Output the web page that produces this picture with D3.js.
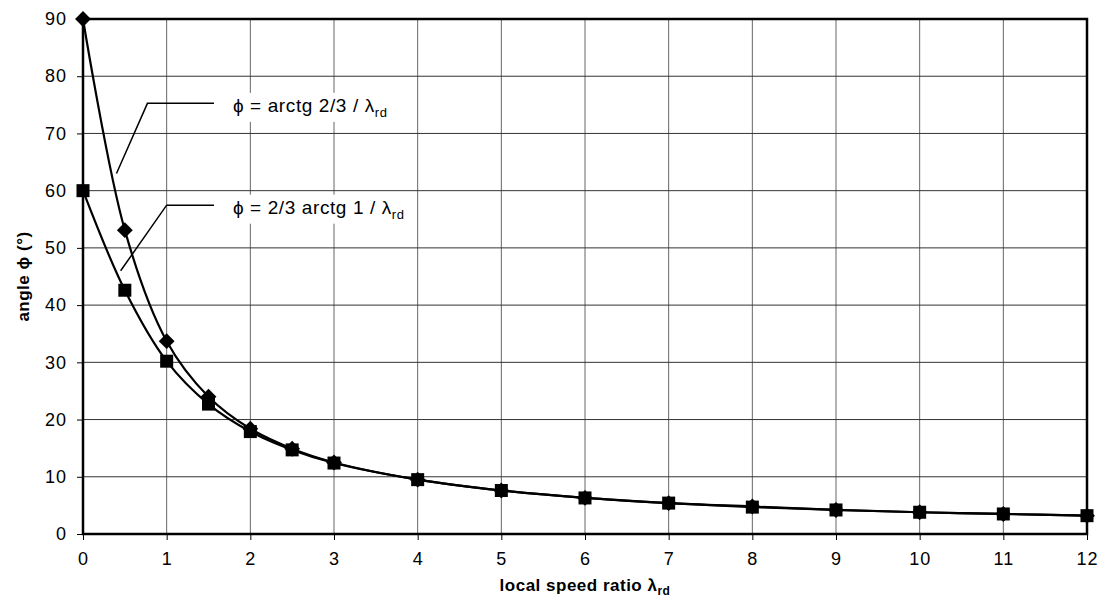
<!DOCTYPE html>
<html>
<head>
<meta charset="utf-8">
<script src="https://cdn.jsdelivr.net/npm/d3@7"></script>
<style>
  body { margin: 0; background: #fff; }
  text { font-family: Arial, "Liberation Sans", sans-serif; }
</style>
</head>
<body>
<div id="chart"></div>
<script>
const lambdas = [0, 0.5, 1, 1.5, 2, 2.5, 3, 4, 5, 6, 7, 8, 9, 10, 11, 12];
const phiArctg = [90, 53.1, 33.7, 24.0, 18.4, 14.9, 12.5, 9.5, 7.6, 6.3, 5.4, 4.8, 4.2, 3.8, 3.5, 3.2];
const phiTwoThirds = [60, 42.6, 30.2, 22.7, 17.9, 14.7, 12.4, 9.5, 7.6, 6.3, 5.4, 4.7, 4.2, 3.8, 3.5, 3.2];
const xTicks = d3.range(0, 13, 1);
const yTicks = d3.range(0, 91, 10);

const width = 1108, height = 614;
const margin = {left: 83, right: 21, top: 19, bottom: 80};

const svg = d3.select('#chart').append('svg')
    .attr('width', width)
    .attr('height', height);

const x = d3.scaleLinear().domain([0, 12]).range([margin.left, width - margin.right]);
const y = d3.scaleLinear().domain([0, 90]).range([height - margin.bottom, margin.top]);

// grid
svg.append('g').selectAll('line')
    .data(xTicks.slice(1, -1))
    .enter().append('line')
        .attr('x1', d => x(d)).attr('x2', d => x(d))
        .attr('y1', y(0)).attr('y2', y(90))
        .attr('stroke', '#666').attr('stroke-width', 1);
svg.append('g').selectAll('line')
    .data(yTicks.slice(1, -1))
    .enter().append('line')
        .attr('y1', d => y(d)).attr('y2', d => y(d))
        .attr('x1', x(0)).attr('x2', x(12))
        .attr('stroke', '#333').attr('stroke-width', 1);

// axes
const xAxis = svg.append('g')
    .attr('transform', `translate(0,${y(0)})`)
    .call(d3.axisBottom(x).tickValues(xTicks).tickSize(6).tickPadding(12).tickFormat(d3.format('d')));
const yAxis = svg.append('g')
    .attr('transform', `translate(${x(0)},0)`)
    .call(d3.axisLeft(y).tickValues(yTicks).tickSize(6).tickPadding(10).tickFormat(d3.format('d')));
[xAxis, yAxis].forEach(a => {
    a.select('.domain').remove();
    a.selectAll('.tick line').attr('stroke', '#000');
    a.selectAll('text').style('font-size', '18px').style('letter-spacing', '1px').attr('fill', '#000');
});

const labels = [
    {text: 'ϕ = arctg 2/3 / λ', v: 75, lx: 233, ex: 0.4, ey: 63, hx: 0.77},
    {text: 'ϕ = 2/3 arctg 1 / λ', v: 57.2, lx: 233, ex: 0.45, ey: 46, hx: 1.0}
];

// frame
svg.append('rect')
    .attr('x', x(0)).attr('y', y(90))
    .attr('width', x(12) - x(0)).attr('height', y(0) - y(90))
    .attr('fill', 'none').attr('stroke', '#000').attr('stroke-width', 2.5);

// annotations with white boxes behind
labels.forEach(l => {
    const g = svg.append('g');
    const box = g.append('rect').attr('fill', '#fff');
    const t = g.append('text')
        .attr('x', l.lx).attr('y', y(l.v) + 7)
        .style('font-size', '19px').style('letter-spacing', '0.6px');
    t.append('tspan').text(l.text);
    t.append('tspan').text('rd').attr('dy', 5).style('font-size', '13px');
    const bb = t.node().getBBox();
    box.attr('x', bb.x - 12).attr('y', bb.y - 2)
        .attr('width', bb.width + 24).attr('height', bb.height + 4);
    g.append('path')
        .attr('d', `M${x(l.ex)},${y(l.ey)}L${x(l.hx)},${y(l.v) - 1.5}L${l.lx - 19},${y(l.v) - 1.5}`)
        .attr('fill', 'none').attr('stroke', '#000').attr('stroke-width', 1.5);
});

// series
const line = d3.line()
    .x((d, i) => x(lambdas[i]))
    .y(d => y(d))
    .curve(d3.curveCatmullRom.alpha(0.5));

[phiArctg, phiTwoThirds].forEach(s => {
    svg.append('path')
        .attr('d', line(s))
        .attr('fill', 'none').attr('stroke', '#000').attr('stroke-width', 2.2);
});

svg.append('g').selectAll('path')
    .data(phiArctg)
    .enter().append('path')
        .attr('d', d3.symbol(d3.symbolDiamond2, 160))
        .attr('transform', (d, i) => `translate(${x(lambdas[i])},${y(d)})`)
        .attr('fill', '#000');
svg.append('g').selectAll('rect')
    .data(phiTwoThirds)
    .enter().append('rect')
        .attr('x', (d, i) => x(lambdas[i]) - 6.5)
        .attr('y', d => y(d) - 6.5)
        .attr('width', 13).attr('height', 13)
        .attr('fill', '#000');

// axis titles
const xt = svg.append('text')
    .attr('x', (x(0) + x(12)) / 2).attr('y', 591)
    .attr('text-anchor', 'middle')
    .style('font-size', '17px').style('font-weight', 'bold').style('letter-spacing', '0.5px');
xt.append('tspan').text('local speed ratio λ');
xt.append('tspan').text('rd').attr('dy', 4).style('font-size', '12px');

svg.append('text')
    .attr('transform', `translate(29,${(y(0) + y(90)) / 2}) rotate(-90)`)
    .attr('text-anchor', 'middle')
    .style('font-size', '17px').style('font-weight', 'bold').style('letter-spacing', '0.5px')
    .text('angle ϕ (°)');
</script>
</body>
</html>
